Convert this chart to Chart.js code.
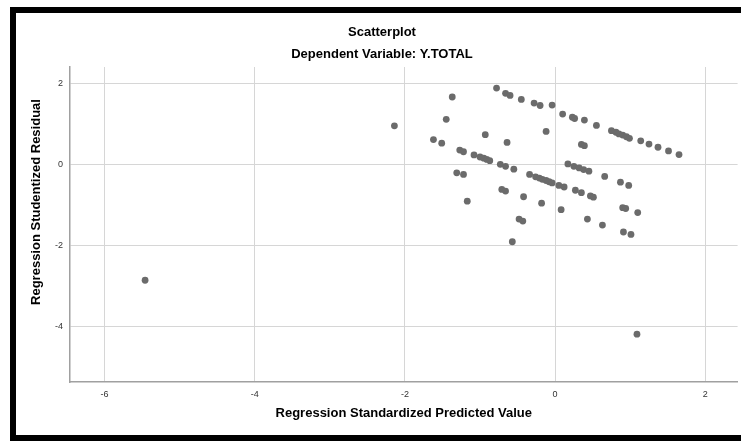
<!DOCTYPE html>
<html>
<head>
<meta charset="utf-8">
<script src="https://cdn.jsdelivr.net/npm/chart.js@4/dist/chart.umd.min.js"></script>
<style>
  body { margin: 0; background: #fff; }
  #wrap { position: relative; width: 741px; height: 441px; overflow: hidden; }
  #frame { position: absolute; left: 10px; top: 7px; width: 760px; height: 434px;
           border: 6px solid #000; box-sizing: border-box; }
  #chart { position: absolute; left: 0; top: 0; }
</style>
</head>
<body>
<div id="wrap">
  <div id="frame"></div>
  <canvas id="chart" width="741" height="441"></canvas>
</div>
<script>
// predicted value (x) and studentized residual (y)
const predicted = [
    -5.46, -2.14, -1.37, -1.45, -1.62, -1.51, -1.27, -1.22, -1.08, -1.00,
    -0.95, -0.91, -0.87, -0.93, -0.64, -0.73, -0.66, -0.55, -1.31, -1.22,
    -1.17, -0.34, -0.26, -0.21, -0.17, -0.12, -0.08, -0.04, 0.05, 0.12,
    0.27, 0.35, 0.47, 0.51, -0.71, -0.66, -0.42, -0.18, 0.08, 0.90,
    0.94, 1.10, -0.48, -0.43, 0.43, 0.63, 0.91, 1.01, -0.57, 1.09,
    -0.78, -0.66, -0.60, -0.45, -0.28, -0.20, -0.04, 0.10, 0.23, 0.26,
    0.39, 0.55, 0.75, 0.81, 0.85, 0.90, 0.95, 0.99, 1.14, 1.25,
    1.37, 1.51, 1.65, -0.12, 0.35, 0.39, 0.17, 0.25, 0.32, 0.38,
    0.45, 0.66, 0.87, 0.98
];
const residual = [
    -2.86, 0.95, 1.66, 1.11, 0.61, 0.52, 0.35, 0.31, 0.23, 0.18,
    0.15, 0.12, 0.09, 0.73, 0.54, 0.00, -0.05, -0.12, -0.21, -0.25,
    -0.91, -0.25, -0.31, -0.34, -0.37, -0.40, -0.43, -0.46, -0.52, -0.56,
    -0.64, -0.70, -0.78, -0.81, -0.62, -0.66, -0.80, -0.96, -1.12, -1.07,
    -1.09, -1.19, -1.35, -1.40, -1.35, -1.50, -1.67, -1.73, -1.91, -4.19,
    1.88, 1.75, 1.70, 1.60, 1.51, 1.45, 1.46, 1.24, 1.16, 1.13,
    1.09, 0.96, 0.83, 0.79, 0.75, 0.72, 0.68, 0.64, 0.58, 0.50,
    0.42, 0.33, 0.24, 0.81, 0.49, 0.46, 0.01, -0.05, -0.09, -0.13,
    -0.17, -0.30, -0.44, -0.52
];
const xTicks = [-6, -4, -2, 0, 2];
const yTicks = [2, 0, -2, -4];

const titleText = 'Scatterplot';
const subtitleText = 'Dependent Variable: Y.TOTAL';
const xTitle = 'Regression Standardized Predicted Value';
const yTitle = 'Regression Studentized Residual';

const points = predicted.map((x, i) => ({ x: x, y: residual[i] }));

const FONT = '"Liberation Sans", Arial, sans-serif';

// titles drawn where SPSS puts them (not centred on the plot area)
const textPlugin = {
    id: 'spssText',
    afterDraw(chart) {
        const ctx = chart.ctx;
        ctx.save();
        ctx.fillStyle = '#000';
        ctx.font = 'bold 13px ' + FONT;
        ctx.textAlign = 'center';
        ctx.textBaseline = 'middle';
        ctx.fillText(titleText, 382, 32);
        ctx.fillText(subtitleText, 382, 54);
        const area = chart.chartArea;
        ctx.fillText(xTitle, (area.left + area.right) / 2, 413);
        ctx.translate(36, 202);
        ctx.rotate(-Math.PI / 2);
        ctx.fillText(yTitle, 0, 0);
        ctx.restore();
    }
};

function keepTicks(list) {
    return function (scale) {
        scale.ticks = list.map(v => ({ value: v }));
    };
}

new Chart(document.getElementById('chart').getContext('2d'), {
    type: 'scatter',
    data: {
        datasets: [{
            data: points,
            backgroundColor: '#6b6b6b',
            borderWidth: 0,
            pointRadius: 3.4,
            pointHoverRadius: 3.4
        }]
    },
    options: {
        responsive: false,
        animation: false,
        events: [],
        layout: { padding: { left: 0, right: 2, top: 67, bottom: 0 } },
        plugins: {
            legend: { display: false },
            tooltip: { enabled: false }
        },
        scales: {
            x: {
                type: 'linear',
                min: -6.46,
                max: 2.43,
                afterBuildTicks: keepTicks(xTicks),
                afterFit(scale) { scale.height = 59; },
                grid: { color: '#d6d6d6', lineWidth: 1, drawTicks: false },
                border: { color: '#a0a0a0', width: 1.5 },
                ticks: {
                    padding: 7,
                    color: '#333',
                    font: { family: FONT, size: 9 }
                }
            },
            y: {
                type: 'linear',
                min: -5.37,
                max: 2.40,
                afterBuildTicks: keepTicks(yTicks),
                afterFit(scale) { scale.width = 70; },
                grid: { color: '#d6d6d6', lineWidth: 1, drawTicks: false },
                border: { color: '#a0a0a0', width: 1.5 },
                ticks: {
                    padding: 7,
                    color: '#333',
                    font: { family: FONT, size: 9 }
                }
            }
        }
    },
    plugins: [textPlugin]
});
</script>
</body>
</html>
